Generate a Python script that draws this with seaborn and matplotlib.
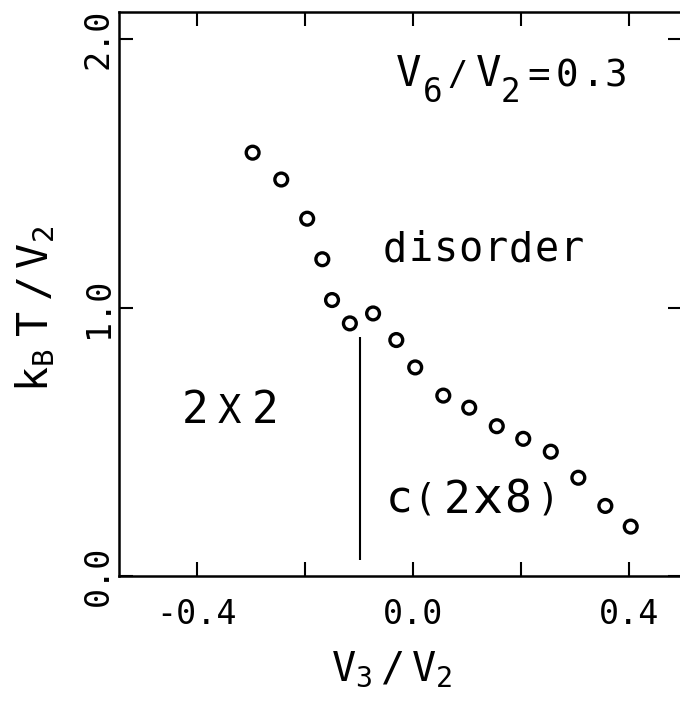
import matplotlib
matplotlib.use("Agg")
import matplotlib.pyplot as plt
import seaborn as sns
import pandas as pd

# Transition temperatures k_B T / V2 against V3 / V2 at V6 / V2 = 0.3
v3_over_v2 = [-0.297, -0.244, -0.196, -0.168, -0.150, -0.117, -0.074, -0.031,
              0.004, 0.056, 0.104, 0.155, 0.204, 0.255, 0.306, 0.356, 0.403]
kT_over_v2 = [1.577, 1.477, 1.331, 1.180, 1.028, 0.941, 0.978, 0.879,
              0.777, 0.672, 0.627, 0.558, 0.511, 0.463, 0.366, 0.261, 0.184]

# Phase boundary between the 2x2 and c(2x8) phases
boundary_x = -0.098
boundary_y = [0.06, 0.89]

x_ticks = [-0.4, -0.2, 0.0, 0.2, 0.4]
x_tick_labels = ["-0.4", "", "0.0", "", "0.4"]
y_ticks = [0.0, 1.0, 2.0]
y_tick_labels = ["0.0", "1.0", "2.0"]

sns.set_style("ticks")
plt.rcParams["font.family"] = ["DejaVu Sans Mono", "DejaVu Sans"]
plt.rcParams["mathtext.default"] = "regular"
for key in ("text.color", "axes.labelcolor", "xtick.color", "ytick.color",
            "axes.edgecolor"):
    plt.rcParams[key] = "black"

df = pd.DataFrame({"v3": v3_over_v2, "kT": kT_over_v2})

fig = plt.figure(figsize=(6.8, 7.02), dpi=100)
ax = fig.add_axes([0.175, 0.1795, 0.828, 0.803])

sns.scatterplot(data=df, x="v3", y="kT", ax=ax, marker="o", s=85,
                facecolors="none", edgecolor="black", linewidth=2.4,
                legend=False, zorder=3)
ax.vlines(boundary_x, boundary_y[0], boundary_y[1], color="black", lw=1.5)

ax.set_xlim(-0.5444, 0.498)
ax.set_ylim(0.0, 2.1)
ax.set_xticks(x_ticks)
ax.set_xticklabels(x_tick_labels, fontsize=24)
ax.set_yticks(y_ticks)
ax.set_yticklabels(y_tick_labels, fontsize=24, rotation=90, va="center")
ax.tick_params(axis="both", direction="in", top=True, right=True,
               length=10, width=1.5, color="black", labelcolor="black")
ax.tick_params(axis="x", pad=16)
ax.tick_params(axis="y", pad=3)
for sp in ax.spines.values():
    sp.set_linewidth(1.8)
    sp.set_color("black")

ax.set_xlabel(r"$V_3\,/\,V_2$", fontsize=29)
ax.set_ylabel(r"$k_B\;T\;/\,V_2$", fontsize=30)
ax.xaxis.set_label_coords(0.485, -0.131)
ax.yaxis.set_label_coords(-0.11, 0.473)


def lettering(ax, xy, parts):
    """Plotter-style lettering: each glyph placed on its own pitch (pixels)."""
    for ch, dx, dy, size in parts:
        ax.annotate(ch, xy, xycoords="data", xytext=(dx, dy),
                    textcoords="offset pixels", ha="center", va="baseline",
                    fontsize=size, color="black", annotation_clip=False)


lettering(ax, (-0.0074, 1.825), [
    ("V", 0, 0, 30.5), ("6", 24, -16, 23.5), ("/", 48, 1, 24),
    ("V", 80, 0, 30.5), ("2", 101.5, -16, 23.5), ("=", 130, 0, 27),
    ("0", 158, 0, 27), (".", 184, 0, 27), ("3", 207, 0, 27),
])
lettering(ax, (-0.033, 1.172),
          [(c, i * 25.2, 0, 29) for i, c in enumerate("disorder")])
lettering(ax, (-0.404, 0.570),
          [("2", 0, 0, 32), ("X", 34.5, 0, 28), ("2", 70, 0, 32)])
lettering(ax, (-0.026, 0.235), [
    ("c", 0, 0, 32), ("(", 26, 3, 27), ("2", 58, 0, 32),
    ("x", 88, 0, 36), ("8", 118, 0, 32), (")", 149, 3, 27),
])

fig.savefig("out.png", dpi=100)
